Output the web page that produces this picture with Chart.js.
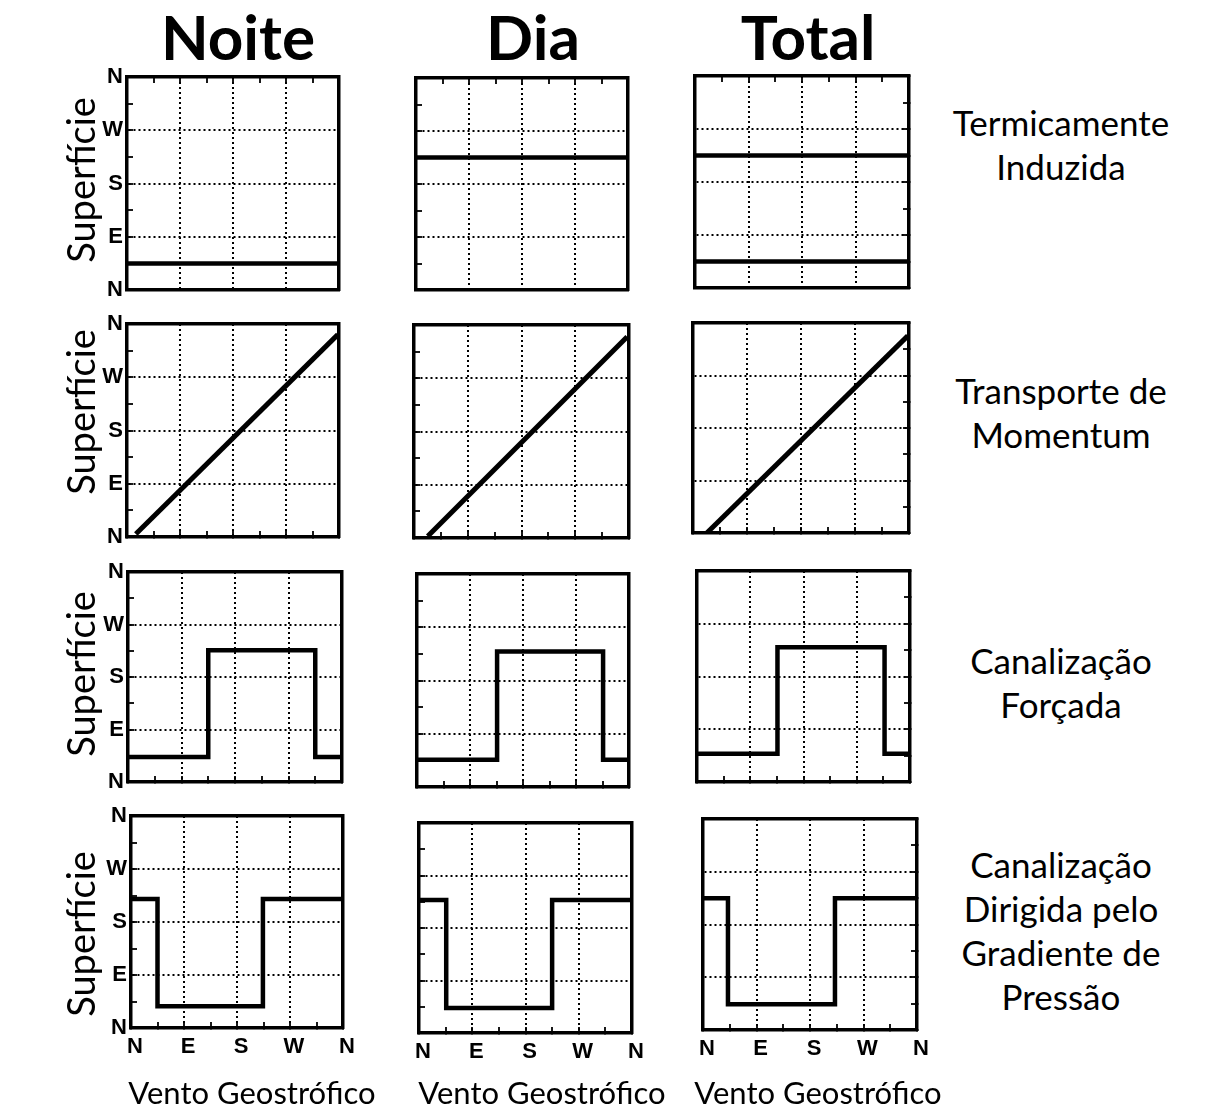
<!DOCTYPE html>
<html>
<head>
<meta charset="utf-8">
<script src="https://cdn.jsdelivr.net/npm/chart.js@4.4.1/dist/chart.umd.min.js"></script>
<style>
  html, body { margin: 0; padding: 0; background: #fff; }
  #page { position: relative; width: 1208px; height: 1106px; overflow: hidden; background: #fff; }
  #page canvas { position: absolute; }
  .t { position: absolute; white-space: nowrap; color: #000; font-family: Lato, "Open Sans", sans-serif;
       line-height: 1; transform: translate(-50%, -50%); }
  .col { font-weight: 700; font-size: 62px; }
  .side { font-size: 35px; text-align: center; line-height: 44px; }
  .ylab { font-size: 38px; transform: translate(-50%, -50%) rotate(-90deg); }
  .xlab { font-size: 31px; }
</style>
</head>
<body>
<div id="page"></div>
<script>
// Directions in degrees: N = 0, E = 90, S = 180, W = 270, N = 360
const compassLabels = ['N', 'E', 'S', 'W', 'N'];
const columnTitles = ['Noite', 'Dia', 'Total'];
const rowTitles = [
  ['Termicamente', 'Induzida'],
  ['Transporte de', 'Momentum'],
  ['Canalização', 'Forçada'],
  ['Canalização', 'Dirigida pelo', 'Gradiente de', 'Pressão']
];
const surfaceTitle = 'Superfície';
const geoTitle = 'Vento Geostrófico';

// Thermally induced: surface wind independent of the geostrophic wind
const thermNightGeo = [0, 360];
const thermNightSfc = [45, 45];
const thermDayGeo = [0, 360];
const thermDaySfc = [225, 225];
const thermTotalNightGeo = [0, 360];
const thermTotalNightSfc = [45, 45];
const thermTotalDayGeo = [0, 360];
const thermTotalDaySfc = [225, 225];

// Downward momentum transport: surface follows the geostrophic wind
const momNightGeo = [15, 358];
const momNightSfc = [5, 342];
const momDayGeo = [23, 357];
const momDaySfc = [3, 340];
const momTotalGeo = [23, 358];
const momTotalSfc = [0, 338];

// Forced channeling
const forcedNightGeo = [0, 135, 135, 315, 315, 360];
const forcedNightSfc = [43, 43, 226, 226, 43, 43];
const forcedDayGeo = [0, 136, 136, 316, 316, 360];
const forcedDaySfc = [46, 46, 229, 229, 46, 46];
const forcedTotalGeo = [0, 136, 136, 317, 317, 360];
const forcedTotalSfc = [48, 48, 230, 230, 48, 48];

// Pressure-driven channeling
const pressNightGeo = [0, 45, 45, 224, 224, 360];
const pressNightSfc = [219, 219, 37, 37, 219, 219];
const pressDayGeo = [0, 46, 46, 225, 225, 360];
const pressDaySfc = [228, 228, 43, 43, 228, 228];
const pressTotalGeo = [0, 42, 42, 222, 222, 360];
const pressTotalSfc = [225, 225, 44, 44, 225, 225];

// Plot-area boxes [left, top, right, bottom] per row and column
const panelBoxes = [
  [[127, 77, 339, 290], [416, 78, 628, 290], [695, 76, 909, 288]],
  [[127, 324, 339, 537], [414, 325, 629, 538], [693, 323, 909, 533]],
  [[128, 572, 342, 782], [417, 574, 629, 787], [697, 571, 910, 782]],
  [[131, 816, 343, 1028], [419, 823, 632, 1033], [703, 819, 917, 1030]]
];

const INK = '#000';
const page = document.getElementById('page');
const M = { l: 44, r: 16, t: 14, b: 44 };

function pts(xs, ys) { return xs.map((x, i) => ({ x: x, y: ys[i] })); }

const panelSeries = [
  [
    [pts(thermNightGeo, thermNightSfc)],
    [pts(thermDayGeo, thermDaySfc)],
    [pts(thermTotalDayGeo, thermTotalDaySfc), pts(thermTotalNightGeo, thermTotalNightSfc)]
  ],
  [
    [pts(momNightGeo, momNightSfc)],
    [pts(momDayGeo, momDaySfc)],
    [pts(momTotalGeo, momTotalSfc)]
  ],
  [
    [pts(forcedNightGeo, forcedNightSfc)],
    [pts(forcedDayGeo, forcedDaySfc)],
    [pts(forcedTotalGeo, forcedTotalSfc)]
  ],
  [
    [pts(pressNightGeo, pressNightSfc)],
    [pts(pressDayGeo, pressDaySfc)],
    [pts(pressTotalGeo, pressTotalSfc)]
  ]
];

const isInnerMajor = v => v % 90 === 0 && v > 0 && v < 360;
const gridColor = ctx => (ctx.tick && isInnerMajor(ctx.tick.value)) ? INK : 'rgba(0,0,0,0)';
const tickFont = { family: '"Liberation Sans", Arial, sans-serif', weight: 'bold', size: 22 };

function axis(pos, o) {
  const horizontal = pos === 'top' || pos === 'bottom';
  return {
    type: 'linear',
    position: pos,
    min: 0,
    max: 360,
    afterFit: s => {
      if (horizontal) s.height = pos === 'bottom' ? M.b : M.t;
      else s.width = pos === 'left' ? M.l : M.r;
      // keep the plot box fixed: labels may overhang the ends of the axis
      s.paddingLeft = 0; s.paddingRight = 0; s.paddingTop = 0; s.paddingBottom = 0;
    },
    ticks: {
      stepSize: 45,
      display: !!o.labels,
      autoSkip: false,
      maxRotation: 0,
      padding: horizontal ? 12 : 10,
      labelOffset: horizontal ? 4 : 0,
      font: tickFont,
      color: INK,
      callback: v => (v % 90 === 0 ? compassLabels[v / 90] : '')
    },
    grid: {
      drawOnChartArea: !!o.grid,
      drawTicks: !!o.ticks,
      tickLength: -6,
      tickColor: INK,
      tickWidth: 1.8,
      color: gridColor,
      lineWidth: 2
    },
    border: { display: true, color: INK, width: 3.5, dash: [2, 3] }
  };
}

function makePanel(row, col) {
  const [L, T, R, B] = panelBoxes[row][col];
  const w = R - L + M.l + M.r;
  const h = B - T + M.t + M.b;
  const cv = document.createElement('canvas');
  cv.width = w; cv.height = h;
  cv.style.left = (L - M.l) + 'px';
  cv.style.top = (T - M.t) + 'px';
  cv.style.width = w + 'px';
  cv.style.height = h + 'px';
  page.appendChild(cv);

  const datasets = panelSeries[row][col].map(d => ({
    data: d,
    borderColor: INK,
    borderWidth: row === 1 ? 5 : 4.5,
    pointRadius: 0,
    tension: 0,
    fill: false,
    borderCapStyle: 'butt',
    borderJoinStyle: 'miter'
  }));

  new Chart(cv, {
    type: 'line',
    data: { datasets: datasets },
    options: {
      responsive: false,
      animation: false,
      devicePixelRatio: 1,
      layout: { padding: 0 },
      plugins: { legend: { display: false }, tooltip: { enabled: false } },
      scales: {
        x: axis('bottom', { grid: true, ticks: row > 0, labels: row === 3 }),
        x2: axis('top', { grid: false, ticks: row === 0, labels: false }),
        y: axis('left', { grid: true, ticks: col < 2, labels: col === 0 }),
        y2: axis('right', { grid: false, ticks: col === 2, labels: false })
      }
    }
  });
}

for (let r = 0; r < 4; r++) for (let c = 0; c < 3; c++) makePanel(r, c);

// Text: column titles, row descriptions and axis titles
function addText(cls, html, x, y) {
  const d = document.createElement('div');
  d.className = 't ' + cls;
  d.innerHTML = html;
  d.style.left = x + 'px';
  d.style.top = y + 'px';
  page.appendChild(d);
}
const titleX = [238, 533, 808];
columnTitles.forEach((s, i) => addText('col', s, titleX[i], 36));
const sideY = [144, 412, 682, 930];
rowTitles.forEach((lines, i) => addText('side', lines.join('<br>'), 1061, sideY[i]));
const ylabY = [180, 412, 674, 934];
ylabY.forEach(y => addText('ylab', surfaceTitle, 80, y));
const xlabX = [252, 542, 818];
xlabX.forEach(x => addText('xlab', geoTitle, x, 1092));
</script>
</body>
</html>
